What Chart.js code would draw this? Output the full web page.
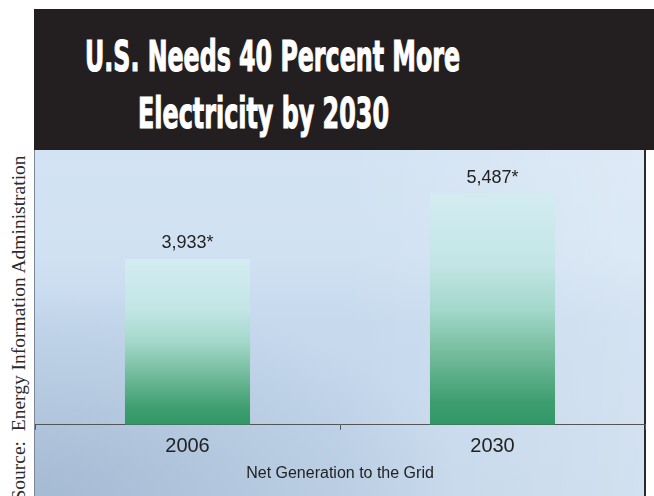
<!DOCTYPE html>
<html>
<head>
<meta charset="utf-8">
<script src="https://cdn.jsdelivr.net/npm/chart.js@4/dist/chart.umd.min.js"></script>
<style>
  html, body { margin: 0; padding: 0; background: #fff; }
  body { width: 654px; height: 496px; position: relative; overflow: hidden; }
  #header { position: absolute; left: 34px; top: 9px; width: 620px; height: 141px; background: #231f20; }
  .title-line {
    position: absolute; white-space: nowrap; color: #fff;
    font-family: "DejaVu Sans Condensed", "DejaVu Sans", sans-serif; font-stretch: condensed;
    font-weight: bold; font-size: 42px; line-height: 42px; transform-origin: 0 0;
    -webkit-text-stroke: 1.1px #fff;
  }
  #panel {
    position: absolute; left: 34px; top: 150px; width: 612px; height: 346px;
    border-left: 1px solid #7a8796; border-right: 2px solid #2a2a2a; box-sizing: border-box;
    background:
      radial-gradient(ellipse 70% 60% at 0% 100%, rgba(140,163,192,0.55) 0%, rgba(140,163,192,0) 100%),
      linear-gradient(to right, rgba(255,255,255,0) 50%, rgba(255,255,255,0.25) 100%),
      linear-gradient(to bottom, #d3e3f3 0%, #d0e1f2 30%, #c6d9ed 50%, #c3d6ea 100%);
  }
  #chart-wrap { position: absolute; left: 35px; top: 150px; width: 611px; height: 346px; }
  #source {
    position: absolute; left: 19px; top: 328px; white-space: nowrap;
    font-family: "Liberation Serif", "Times New Roman", serif; font-size: 19.5px; line-height: 20px;
    color: #2b2b2b; transform: translate(-50%, -50%) rotate(-90deg);
  }
</style>
</head>
<body>
<div id="header"></div>
<div class="title-line" id="t1" data-left="85" data-top="36" data-width="375">U.S. Needs 40 Percent More</div>
<div class="title-line" id="t2" data-left="138" data-top="93" data-width="251">Electricity by 2030</div>
<div id="panel"></div>
<div id="source">Source:&nbsp; Energy Information Administration</div>
<div id="chart-wrap"><canvas id="chart"></canvas></div>
<script>
// datos
const years = ['2006', '2030'];
const netGeneration = [3933, 5487];
const valueLabels = ['3,933*', '5,487*'];
const axisTitle = 'Net Generation to the Grid';

// ajustar el titulo condensado al ancho del original
document.querySelectorAll('.title-line').forEach(el => {
    const w = el.getBoundingClientRect().width;
    const s = Number(el.dataset.width) / w;
    el.style.left = el.dataset.left + 'px';
    el.style.top = el.dataset.top + 'px';
    el.style.transform = `scaleX(${s})`;
});

function barGradient(ctx) {
    const chart = ctx.chart;
    if (!chart.chartArea) return '#3a9a6a';
    const y = chart.scales.y;
    const top = y.getPixelForValue(netGeneration[ctx.dataIndex]);
    const bottom = y.getPixelForValue(0);
    const g = chart.ctx.createLinearGradient(0, top, 0, bottom);
    g.addColorStop(0, '#d3ecf1');
    g.addColorStop(0.3, '#c3e5e6');
    g.addColorStop(0.5, '#a3d8ca');
    g.addColorStop(0.72, '#6db896');
    g.addColorStop(0.9, '#3e9e70');
    g.addColorStop(1, '#319766');
    return g;
}

const valueLabelPlugin = {
    id: 'valueLabels',
    afterDatasetsDraw(chart) {
        const ctx = chart.ctx;
        const meta = chart.getDatasetMeta(0);
        ctx.save();
        ctx.font = '18px "Liberation Sans", Arial, sans-serif';
        ctx.fillStyle = '#222';
        ctx.textAlign = 'center';
        ctx.textBaseline = 'middle';
        meta.data.forEach((bar, i) => {
            ctx.fillText(valueLabels[i], bar.x, bar.y - 16);
        });
        ctx.restore();
    }
};

new Chart(document.getElementById('chart'), {
    type: 'bar',
    data: {
        labels: years,
        datasets: [{
            data: netGeneration,
            backgroundColor: barGradient,
            borderWidth: 0,
            barPercentage: 0.41,
            categoryPercentage: 1
        }]
    },
    options: {
        responsive: true,
        maintainAspectRatio: false,
        animation: false,
        layout: { padding: { top: 22, right: 1, left: 0, bottom: 0 } },
        plugins: { legend: { display: false }, tooltip: { enabled: false } },
        scales: {
            x: {
                offset: true,
                grid: { display: true, drawOnChartArea: false, offset: true, tickLength: 5, color: '#555' },
                border: { display: true, color: '#555', width: 1 },
                ticks: { color: '#222', padding: 5, font: { family: '"Liberation Sans", Arial, sans-serif', size: 20 } },
                title: {
                    display: true, text: axisTitle, color: '#222',
                    font: { family: '"Liberation Sans", Arial, sans-serif', size: 16 },
                    padding: { top: 0, bottom: 13 }
                }
            },
            y: { display: false, min: 0, max: 6000 }
        }
    },
    plugins: [valueLabelPlugin]
});
</script>
</body>
</html>
